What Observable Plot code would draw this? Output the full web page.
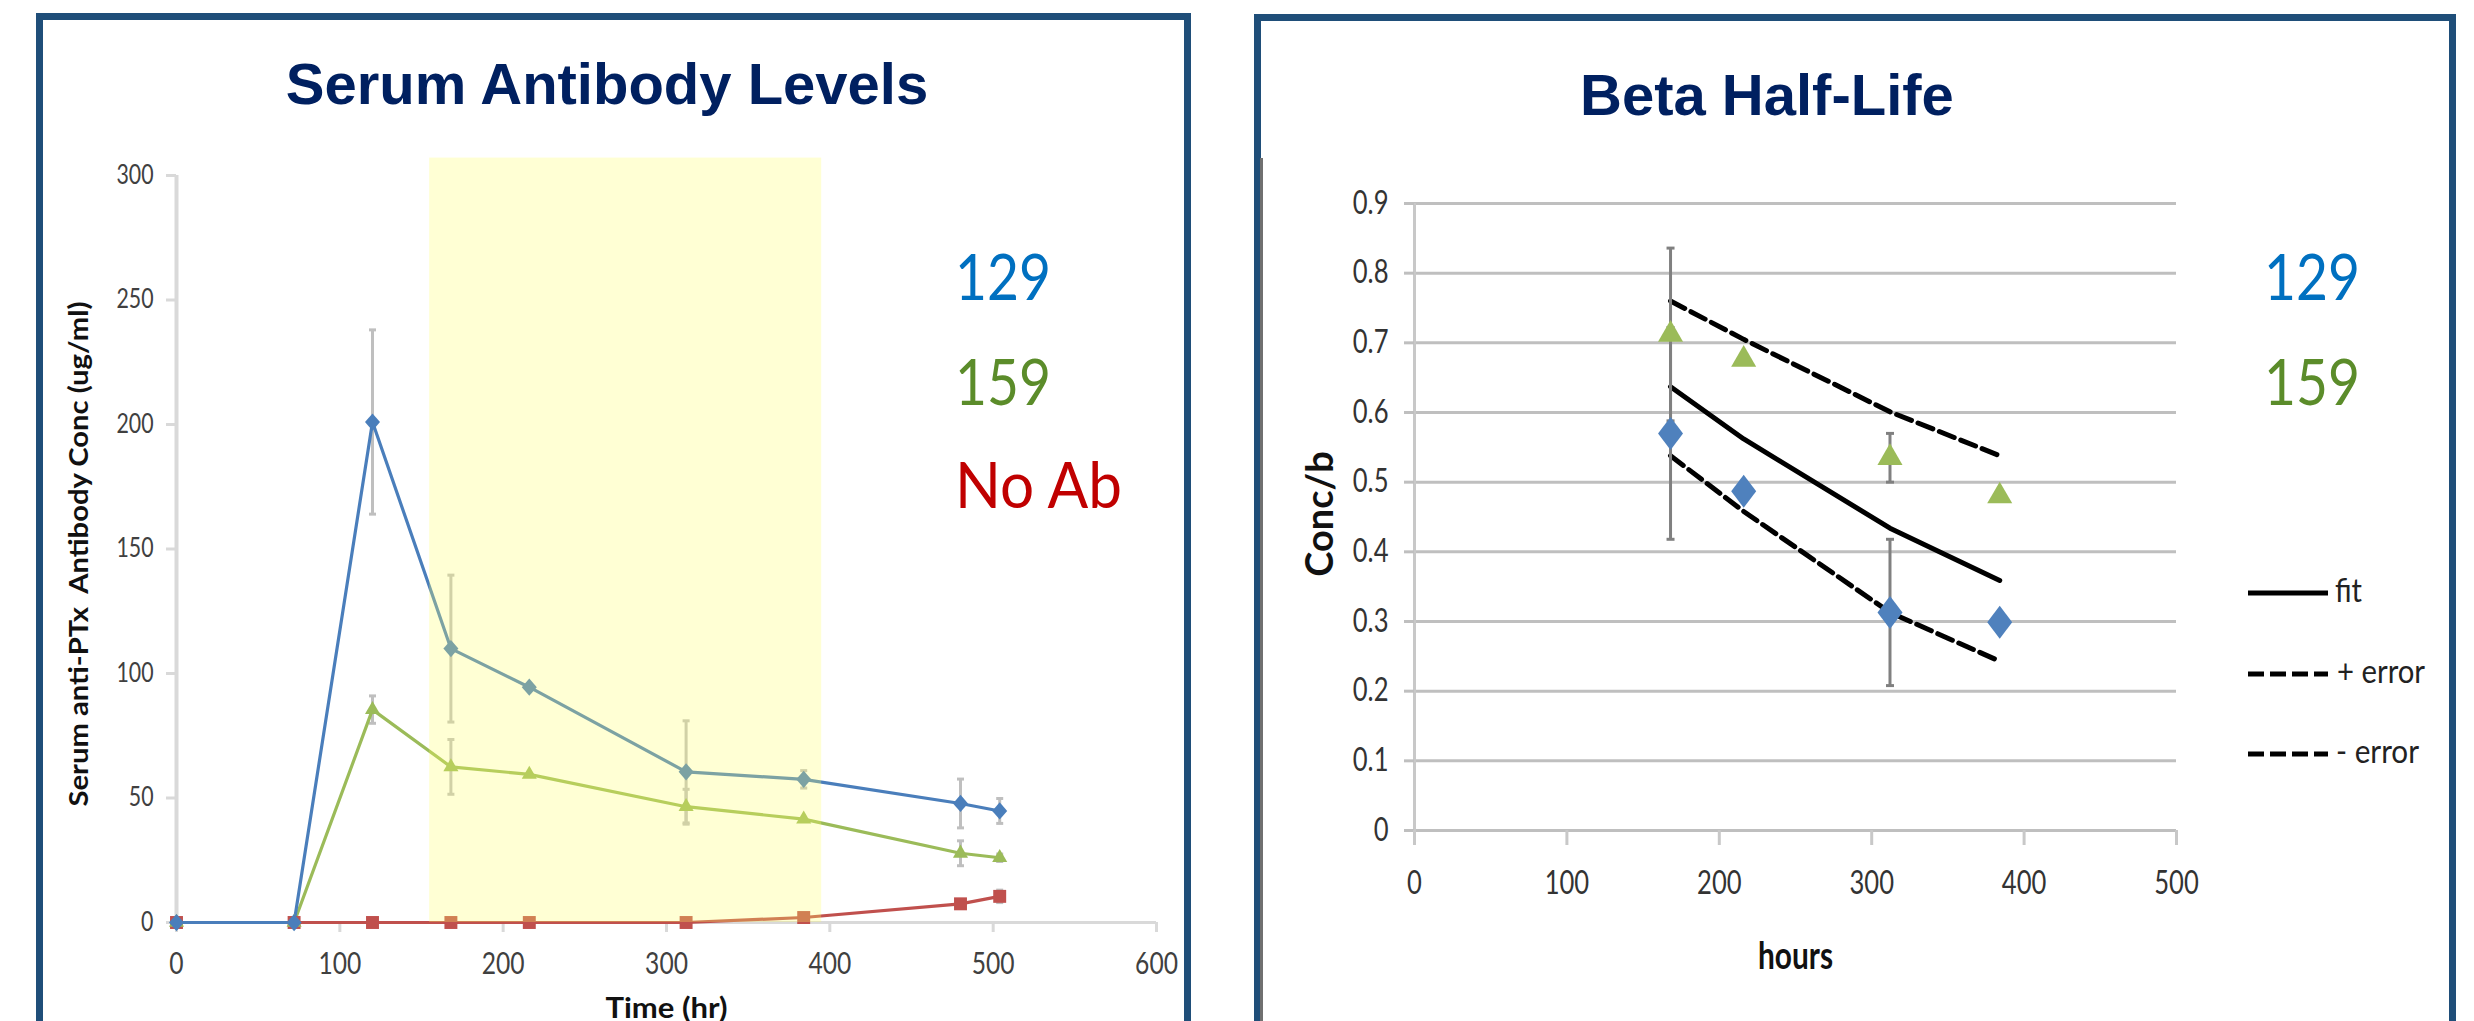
<!DOCTYPE html>
<html><head><meta charset="utf-8">
<script src="https://cdn.jsdelivr.net/npm/d3@7"></script>
<script src="https://cdn.jsdelivr.net/npm/@observablehq/plot@0.6"></script>
<style>
html,body{margin:0;padding:0;background:#fff;width:2474px;height:1021px;overflow:hidden;position:relative;}
.panel{position:absolute;border:7px solid #1F4E79;border-bottom:none;box-sizing:border-box;height:1100px;}
.chart{position:absolute;top:0;}
#overlay{position:absolute;left:0;top:0;pointer-events:none;}
.edge{position:absolute;left:1260px;top:158px;width:3px;height:900px;background:#707070;}
</style></head><body>
<div class="panel" style="left:36px;top:13px;width:1155px"></div>
<div class="panel" style="left:1254px;top:14px;width:1202px"></div>
<div class="edge"></div>
<div id="left" class="chart" style="left:0px"></div>
<div id="right" class="chart" style="left:1240px"></div>
<svg id="overlay" width="2474" height="1021"></svg>
<script>
// ---------- Left chart data: Serum Antibody Levels ----------
const leftHours     = [0, 72, 120, 168, 216, 312, 384, 480, 504];
const serum129      = [0, 0, 201, 110, 94.5, 60.5, 57.5, 47.8, 44.8];
const serum129Err   = [0, 0, 37, 29.5, 0, 20.5, 3.5, 9.8, 5];
const serum159      = [0, 0, 85.5, 62.5, 59.5, 46.5, 41.5, 27.8, 26];
const serum159Err   = [0, 0, 5.5, 11, 0, 7, 0, 5, 1.5];
const serumNoAb     = [0, 0, 0, 0, 0, 0, 2, 7.5, 10.5];
const serumNoAbErr  = [0, 0, 0, 0, 0, 0, 0, 1, 2.5];
const shadeHours    = [155, 395];
const shadeTop      = 307;
const leftXTicks    = [0, 100, 200, 300, 400, 500, 600];
const leftYTicks    = [0, 50, 100, 150, 200, 250, 300];
const leftTitle     = "Serum Antibody Levels";
const leftXLabel    = "Time (hr)";
const leftYLabel    = "Serum anti-PTx  Antibody Conc (ug/ml)";
const leftLegend    = ["129", "159", "No Ab"];

// ---------- Right chart data: Beta Half-Life ----------
const betaHours     = [168, 216, 312, 384];
const beta129       = [0.57, 0.487, 0.313, 0.299];
const beta129Err    = [0.152, 0, 0.105, 0];
const beta159       = [0.712, 0.676, 0.535, 0.48];
const beta159Err    = [0.124, 0, 0.035, 0];
const fitLine       = [0.637, 0.562, 0.434, 0.359];
const fitPlus       = [0.760, 0.705, 0.601, 0.538];
const fitMinus      = [0.538, 0.458, 0.313, 0.243];
const rightXTicks   = [0, 100, 200, 300, 400, 500];
const rightYTicks   = [0, 0.1, 0.2, 0.3, 0.4, 0.5, 0.6, 0.7, 0.8, 0.9];
const rightYTickLabels = ["0", "0.1", "0.2", "0.3", "0.4", "0.5", "0.6", "0.7", "0.8", "0.9"];
const rightTitle    = "Beta Half-Life";
const rightXLabel   = "hours";
const rightYLabel   = "Conc/b";
const rightLegend   = ["129", "159"];
const fitLegend     = ["fit", "+ error", "- error"];

// custom symbols
function diamond(ratio) {
  return {draw(ctx, size) { const r = Math.sqrt(size / Math.PI); ctx.moveTo(0, -r * ratio); ctx.lineTo(r, 0); ctx.lineTo(0, r * ratio); ctx.lineTo(-r, 0); ctx.closePath(); }};
}
const cap = {draw(ctx, size) { const r = Math.sqrt(size / Math.PI); ctx.moveTo(-r, 0); ctx.lineTo(r, 0); }};

// ---------- Left chart ----------
const leftSeries = [
  {name: "129", values: serum129, err: serum129Err, color: "#4A7EBB", symbol: diamond(1.15), r: 7.5},
  {name: "159", values: serum159, err: serum159Err, color: "#9BBB59", symbol: "triangle", r: 5.6},
  {name: "No Ab", values: serumNoAb, err: serumNoAbErr, color: "#C0504D", symbol: "square", r: 7.3}
];
const leftRows = leftSeries.flatMap(s => leftHours.map((h, i) => ({series: s.name, h, v: s.values[i], e: s.err[i]})));
const leftErr = leftRows.filter(d => d.e > 0);
const leftCaps = leftErr.flatMap(d => [{h: d.h, y: d.v + d.e}, {h: d.h, y: d.v - d.e}]);
const shade = [{x1: shadeHours[0], x2: shadeHours[1], y1: 0, y2: shadeTop}];

const leftPlot = Plot.plot({
  width: 1240, height: 1021,
  marginLeft: 176, marginRight: 84, marginTop: 175, marginBottom: 99,
  x: {domain: [0, 600]}, y: {domain: [0, 300]},
  style: {fontFamily: "Lato, sans-serif", color: "#404040", background: "transparent", overflow: "visible"},
  marks: [
    Plot.ruleX([0], {stroke: "#d9d9d9", strokeWidth: 4}),
    Plot.ruleY([0], {stroke: "#d9d9d9", strokeWidth: 3}),
    Plot.axisY(leftYTicks, {tickSize: 10, tickPadding: 13, stroke: "#d9d9d9", strokeWidth: 3, fill: "#404040", fontSize: 26, label: null, tickFormat: d => String(d)}),
    Plot.axisX(leftXTicks, {tickSize: 10, tickPadding: 20, stroke: "#d9d9d9", strokeWidth: 3, fill: "#404040", fontSize: 30, label: null, tickFormat: d => String(d)}),
    Plot.ruleX(leftErr, {x: "h", y1: d => d.v - d.e, y2: d => d.v + d.e, stroke: "#bfbfbf", strokeWidth: 3}),
    Plot.dot(leftCaps, {x: "h", y: "y", symbol: cap, r: 3.5, stroke: "#bfbfbf", strokeWidth: 3, fill: "none"}),
    ...leftSeries.slice().reverse().map(s => Plot.line(leftRows.filter(d => d.series === s.name), {x: "h", y: "v", stroke: s.color, strokeWidth: 3.2})),
    ...leftSeries.slice().reverse().map(s => Plot.dot(leftRows.filter(d => d.series === s.name), {x: "h", y: "v", symbol: s.symbol, r: s.r, fill: s.color, stroke: "none"})),
    Plot.rect(shade, {x1: "x1", x2: "x2", y1: "y1", y2: "y2", fill: "#ffff66", fillOpacity: 0.28}),
    Plot.text([leftXLabel], {text: d => d, frameAnchor: "bottom", dy: 95, fontSize: 28, fontWeight: "bold", fill: "#111"}),
    Plot.text([leftYLabel], {text: d => d, frameAnchor: "left", textAnchor: "middle", dx: -97, dy: 5, rotate: -90, fontSize: 27, fontWeight: "bold", fill: "#111"})
  ]
});
document.getElementById("left").appendChild(leftPlot);

// ---------- Right chart ----------
const rightRows = betaHours.map((h, i) => ({h, b129: beta129[i], e129: beta129Err[i], b159: beta159[i], e159: beta159Err[i], fit: fitLine[i], plus: fitPlus[i], minus: fitMinus[i]}));
const rightErr = [
  ...rightRows.filter(d => d.e129 > 0).map(d => ({h: d.h, lo: d.b129 - d.e129, hi: d.b129 + d.e129})),
  ...rightRows.filter(d => d.e159 > 0).map(d => ({h: d.h, lo: d.b159 - d.e159, hi: d.b159 + d.e159}))
];
const rightCaps = rightErr.flatMap(d => [{h: d.h, y: d.lo}, {h: d.h, y: d.hi}]);

const rightPlot = Plot.plot({
  width: 1234, height: 1021,
  marginLeft: 174, marginRight: 298, marginTop: 203, marginBottom: 191,
  x: {domain: [0, 500]}, y: {domain: [0, 0.9]},
  style: {fontFamily: "Lato, sans-serif", color: "#333", background: "transparent", overflow: "visible"},
  marks: [
    Plot.ruleY(rightYTicks, {stroke: "#bfbfbf", strokeWidth: 3}),
    Plot.ruleX([0], {stroke: "#c8c8c8", strokeWidth: 3}),
    Plot.axisY(rightYTicks, {tickSize: 10, tickPadding: 16, stroke: "#bfbfbf", strokeWidth: 3, fill: "#333", fontSize: 32, label: null, tickFormat: (d, i) => rightYTickLabels[i]}),
    Plot.axisX(rightXTicks, {tickSize: 15, tickPadding: 26, stroke: "#c8c8c8", strokeWidth: 3, fill: "#333", fontSize: 32, label: null, tickFormat: d => String(d)}),
    Plot.line(rightRows, {x: "h", y: "fit", stroke: "#000", strokeWidth: 5}),
    Plot.line(rightRows, {x: "h", y: "plus", stroke: "#000", strokeWidth: 5, strokeDasharray: "16,7"}),
    Plot.line(rightRows, {x: "h", y: "minus", stroke: "#000", strokeWidth: 5, strokeDasharray: "16,7"}),
    Plot.ruleX(rightErr, {x: "h", y1: "lo", y2: "hi", stroke: "#808080", strokeWidth: 3}),
    Plot.dot(rightCaps, {x: "h", y: "y", symbol: cap, r: 4, stroke: "#808080", strokeWidth: 3, fill: "none"}),
    Plot.dot(rightRows, {x: "h", y: "b159", symbol: "triangle", r: 9.3, fill: "#9BBB59", stroke: "none"}),
    Plot.dot(rightRows, {x: "h", y: "b129", symbol: diamond(1.32), r: 12.5, fill: "#4F81BD", stroke: "none"}),
    Plot.text([rightXLabel], {text: d => d, frameAnchor: "bottom", dy: 138, fontSize: 38, fontWeight: "bold", fill: "#111"}),
    Plot.text([rightYLabel], {text: d => d, frameAnchor: "left", textAnchor: "middle", dx: -94, dy: -3, rotate: -90, fontSize: 38, fontWeight: "bold", fill: "#111"})
  ]
});
document.getElementById("right").appendChild(rightPlot);

// horizontal compression of chart text (source images were squeezed horizontally)
function squeeze(svg, factor, exact) {
  svg.querySelectorAll("text").forEach(t => {
    const txt = t.textContent;
    if (exact[txt] === null) return;
    const w = t.getComputedTextLength();
    const target = exact[txt] !== undefined ? exact[txt] : w * factor;
    t.setAttribute("textLength", target);
    t.setAttribute("lengthAdjust", "spacingAndGlyphs");
  });
}
squeeze(leftPlot, 0.82, {[leftXLabel]: 122, [leftYLabel]: 505});
squeeze(rightPlot, 0.8, {[rightXLabel]: 75, [rightYLabel]: null});

// ---------- Overlay: titles and legends ----------
const ov = d3.select("#overlay");
ov.append("text").attr("x", 607).attr("y", 104).attr("text-anchor", "middle")
  .attr("font-family", "'Liberation Sans', Arial, sans-serif").attr("font-weight", "bold").attr("font-size", 58).attr("fill", "#002060").text(leftTitle);
ov.append("text").attr("x", 1580).attr("y", 115)
  .attr("font-family", "'Liberation Sans', Arial, sans-serif").attr("font-weight", "bold").attr("font-size", 58).attr("fill", "#002060").text(rightTitle);

const legendColors = {"129": "#0070C0", "159": "#5B8C2A", "No Ab": "#C00000"};
const legendWidths = {"129": 96, "159": 96, "No Ab": 167};
const legendBaselines = [300, 405, 508];
function bigLegend(labels, x) {
  labels.forEach((lab, i) => {
    ov.append("text").attr("x", x).attr("y", legendBaselines[i])
      .attr("font-family", "Lato, sans-serif").attr("font-size", 64).attr("fill", legendColors[lab])
      .attr("textLength", legendWidths[lab]).attr("lengthAdjust", "spacingAndGlyphs").text(lab);
  });
}
bigLegend(leftLegend, 955);
bigLegend(rightLegend, 2264);

const fitY = [593, 674, 754];
const fitTextX = [2335, 2337, 2336];
const fitTextW = [27, 88, 83];
fitLegend.forEach((lab, i) => {
  const ln = ov.append("line").attr("x1", 2248).attr("x2", 2328).attr("y1", fitY[i]).attr("y2", fitY[i])
    .attr("stroke", "#000").attr("stroke-width", 5);
  if (i > 0) ln.attr("stroke-dasharray", "16,6");
  ov.append("text").attr("x", fitTextX[i]).attr("y", fitY[i] + 9)
    .attr("font-family", "Lato, sans-serif").attr("font-size", 32).attr("fill", "#222")
    .attr("textLength", fitTextW[i]).attr("lengthAdjust", "spacingAndGlyphs").text(lab);
});
</script>
</body></html>
